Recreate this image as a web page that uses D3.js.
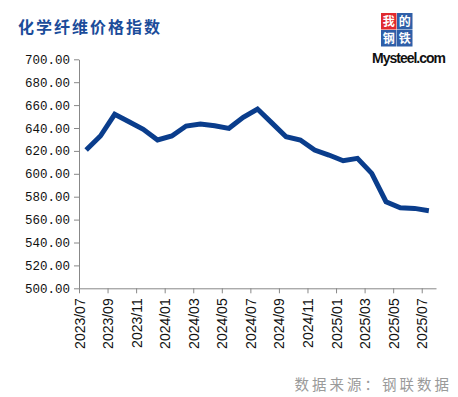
<!DOCTYPE html>
<html>
<head>
<meta charset="utf-8">
<script src="https://cdn.jsdelivr.net/npm/d3@7"></script>
<style>
  body { margin: 0; background: #fff; }
  svg { display: block; }
</style>
</head>
<body>
<svg id="chart"></svg>
<script>
// months shown on the x axis
const months = [
  "2023/07", "2023/08", "2023/09", "2023/10", "2023/11", "2023/12",
  "2024/01", "2024/02", "2024/03", "2024/04", "2024/05", "2024/06",
  "2024/07", "2024/08", "2024/09", "2024/10", "2024/11", "2024/12",
  "2025/01", "2025/02", "2025/03", "2025/04", "2025/05", "2025/06", "2025/07"
];
// chemical fibre price index
const values = [
  620.8, 633, 652, 645.5, 638.9, 629.5,
  633, 641.7, 643.5, 642, 639.7, 649.3,
  656.6, 644.5, 632.4, 629.5, 620.8, 616.4,
  611.4, 613.5, 600.4, 575.6, 570.4, 569.8, 567.8
];
const yTicks = [500, 520, 540, 560, 580, 600, 620, 640, 660, 680, 700];

const W = 458, H = 397;
const margin = {top: 59.3, right: 22, bottom: 108.7, left: 79};
const width = W - margin.left - margin.right;
const height = H - margin.top - margin.bottom;

const svg = d3.select("#chart").attr("width", W).attr("height", H);

// Title
svg.append("text")
  .attr("x", 18).attr("y", 33)
  .attr("font-family", "'Noto Sans CJK SC', sans-serif")
  .attr("font-weight", "bold")
  .attr("font-size", 16)
  .attr("letter-spacing", 2)
  .attr("fill", "#1b4c9a")
  .text("化学纤维价格指数");

// Logo
const logo = svg.append("g").attr("transform", "translate(381,13)");
const cells = [
  {c: "我", x: 0, y: 0, f: "#e02a2f"},
  {c: "的", x: 16, y: 0, f: "#2f5fa8"},
  {c: "钢", x: 0, y: 17, f: "#2f5fa8"},
  {c: "铁", x: 16, y: 17, f: "#2f5fa8"}
];
logo.selectAll("rect").data(cells).join("rect")
  .attr("x", d => d.x).attr("y", d => d.y)
  .attr("width", 15.5).attr("height", 16.5)
  .attr("fill", d => d.f);
logo.selectAll("text.c").data(cells).join("text")
  .attr("class", "c")
  .attr("x", d => d.x + 7.75).attr("y", d => d.y + 12.5)
  .attr("text-anchor", "middle")
  .attr("font-family", "'Noto Sans CJK SC', sans-serif")
  .attr("font-weight", "bold")
  .attr("font-size", 12)
  .attr("fill", "#fff")
  .text(d => d.c);
svg.append("text")
  .attr("x", 372).attr("y", 63)
  .attr("font-family", "'Liberation Sans', Arial, sans-serif")
  .attr("font-weight", "bold")
  .attr("font-size", 14)
  .attr("fill", "#111")
  .attr("textLength", 74)
  .text("Mysteel.com");

const g = svg.append("g")
  .attr("transform", `translate(${margin.left},${margin.top})`);

// Scales
const x = d3.scaleBand().domain(months).range([0, width]);
const y = d3.scaleLinear().domain([500, 700]).range([height, 0]);

// Y axis
const yAxis = g.append("g")
  .call(d3.axisLeft(y).tickValues(yTicks).tickSize(5).tickSizeOuter(0)
    .tickFormat(d3.format(".2f")));
yAxis.select(".domain").attr("stroke", "#888");
yAxis.selectAll(".tick line").attr("stroke", "#888");
yAxis.selectAll(".tick text")
  .attr("x", -9)
  .attr("font-family", "'Liberation Mono', 'DejaVu Sans Mono', monospace")
  .attr("font-size", 12.5)
  .attr("fill", "#111");

// X axis: ticks at the left edge of every second month
const xAxis = g.append("g")
  .attr("transform", `translate(0,${height})`)
  .call(d3.axisBottom(x).tickSize(0).tickFormat(""));
xAxis.select(".domain").attr("stroke", "#888");
xAxis.selectAll(".tick").remove();

const shown = months.filter((d, i) => i % 2 === 0);
const xt = xAxis.selectAll(".mtick").data(shown).join("g")
  .attr("class", "mtick")
  .attr("transform", d => `translate(${x(d) + 0.5},0)`);
xt.append("line").attr("y2", 5).attr("stroke", "#888");
xt.append("text")
  .attr("transform", "rotate(-90)")
  .attr("x", -10).attr("y", 5)
  .attr("text-anchor", "end")
  .attr("font-family", "'Liberation Sans', Arial, sans-serif")
  .attr("font-size", 14)
  .attr("fill", "#111")
  .text(d => d);

// Line
const line = d3.line()
  .x((d, i) => x(months[i]) + x.bandwidth() / 2)
  .y(d => y(d));

g.append("path")
  .datum(values)
  .attr("fill", "none")
  .attr("stroke", "#0a3d8c")
  .attr("stroke-width", 5)
  .attr("stroke-linejoin", "miter")
  .attr("d", line);

// Source
svg.append("text")
  .attr("x", 452).attr("y", 390)
  .attr("text-anchor", "end")
  .attr("font-family", "'Noto Sans CJK SC', sans-serif")
  .attr("font-size", 14.5)
  .attr("letter-spacing", 3)
  .attr("fill", "#9a9a9a")
  .text("数据来源：钢联数据");
</script>
</body>
</html>
